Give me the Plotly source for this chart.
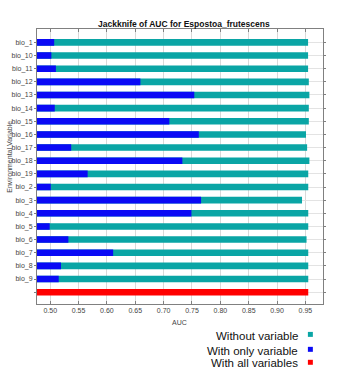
import plotly.graph_objects as go

variables = ["bio_1", "bio_10", "bio_11", "bio_12", "bio_13", "bio_14", "bio_15", "bio_16",
             "bio_17", "bio_18", "bio_19", "bio_2", "bio_3", "bio_4", "bio_5", "bio_6",
             "bio_7", "bio_8", "bio_9"]
without_variable = [0.9547, 0.9547, 0.9547, 0.956, 0.957, 0.956, 0.956, 0.951,
                    0.953, 0.957, 0.955, 0.955, 0.944, 0.955, 0.955, 0.952,
                    0.955, 0.955, 0.955]
with_only_variable = [0.507, 0.502, 0.510, 0.659, 0.754, 0.508, 0.710, 0.762,
                      0.537, 0.733, 0.566, 0.501, 0.766, 0.749, 0.499, 0.532,
                      0.611, 0.519, 0.515]
with_all_variables = 0.955
x_tick_values = [0.50, 0.55, 0.60, 0.65, 0.70, 0.75, 0.80, 0.85, 0.90, 0.95]

TEAL = "#0aa5a5"
BLUE = "#0a0af5"
RED = "#ff0000"

W, H = 345, 374
L, R, T, B = 35, 322.7, 28.5, 304.5

def px(x):
    return (x - L) / (R - L)

def py(y):
    return (B - y) / (B - T)

positions = list(range(len(variables)))
all_pos = len(variables)

fig = go.Figure()
fig.add_trace(go.Bar(y=positions, x=without_variable, orientation="h",
                     marker=dict(color=TEAL, line=dict(width=0)), width=0.5,
                     name="Without variable", showlegend=False))
fig.add_trace(go.Bar(y=positions, x=with_only_variable, orientation="h",
                     marker=dict(color=BLUE, line=dict(width=0)), width=0.5,
                     name="With only variable", showlegend=False))
fig.add_trace(go.Bar(y=[all_pos], x=[with_all_variables], orientation="h",
                     marker=dict(color=RED, line=dict(width=0)), width=0.5,
                     name="With all variables", showlegend=False))

fig.update_layout(
    width=W, height=H,
    margin=dict(l=L, r=W - R, t=T, b=H - B, pad=0),
    barmode="overlay",
    plot_bgcolor="white", paper_bgcolor="white",
    font=dict(family="Liberation Sans, Arial, sans-serif", color="#444444"),
    xaxis=dict(range=[0.4767, 0.981], tickvals=x_tick_values,
               ticktext=[f"{v:.2f}" for v in x_tick_values],
               tickfont=dict(size=7, color="#444444"),
               showgrid=True, gridcolor="#d9d9d9", gridwidth=1,
               showline=True, linecolor="#808080", linewidth=1, mirror="ticks",
               ticks="inside", ticklen=3, tickcolor="#808080",
               zeroline=False, fixedrange=True),
    yaxis=dict(range=[19.9, -1.02], tickvals=positions + [all_pos],
               ticktext=variables + [""],
               tickfont=dict(size=7, color="#444444"),
               showgrid=True, gridcolor="#e3e3e3", gridwidth=1,
               showline=True, linecolor="#808080", linewidth=1, mirror="ticks",
               ticks="outside", ticklen=2, tickcolor="#808080",
               ticklabelstandoff=0,
               zeroline=False, fixedrange=True),
)

annotations = [
    dict(text="<b>Jackknife of AUC for Espostoa_frutescens</b>", x=px(183), y=py(23),
         xref="paper", yref="paper", showarrow=False, xanchor="center", yanchor="middle",
         font=dict(size=8.5, color="#111111")),
    dict(text="AUC", x=px(178), y=py(323), xref="paper", yref="paper", showarrow=False,
         xanchor="center", yanchor="middle", font=dict(size=7, color="#444444")),
    dict(text="Environmental Variable", x=px(6.5), y=py(157), xref="paper", yref="paper",
         showarrow=False, xanchor="center", yanchor="middle", textangle=-90,
         font=dict(size=7, color="#444444")),
]
legend_items = [("Without variable", TEAL, 336.3, 335.0),
                ("With only variable", BLUE, 351.3, 350.0),
                ("With all variables", RED, 363.7, 363.0)]
shapes = []
for label, color, ty, sy in legend_items:
    annotations.append(dict(text=label, x=px(299.5), y=py(ty), xref="paper", yref="paper",
                            showarrow=False, xanchor="right", yanchor="middle",
                            font=dict(size=11.5, color="#111111")))
    shapes.append(dict(type="rect", xref="paper", yref="paper",
                       x0=px(307.5), x1=px(312.5), y0=py(sy - 2.5), y1=py(sy + 2.5),
                       fillcolor=color, line=dict(width=0)))
fig.update_layout(annotations=annotations, shapes=shapes)

fig.write_html("out.html", config={"displayModeBar": False},
               post_script="document.body.style.margin='0px';document.body.style.overflow='hidden';")
